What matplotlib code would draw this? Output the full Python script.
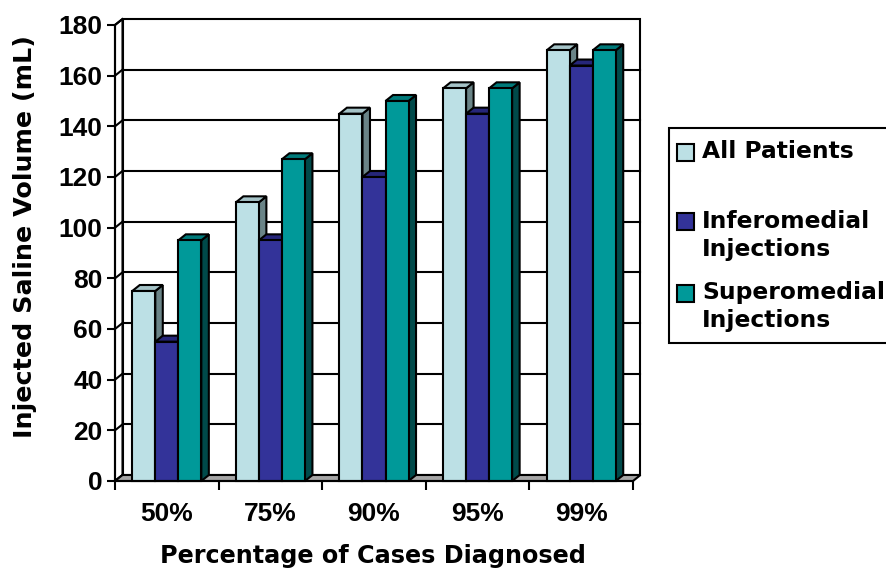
import matplotlib
matplotlib.use("Agg")
import matplotlib.pyplot as plt
from matplotlib import font_manager
from matplotlib.patches import Polygon, Rectangle

categories = ["50%", "75%", "90%", "95%", "99%"]
series = ["All Patients", "Inferomedial\nInjections", "Superomedial\nInjections"]
all_patients = [75, 110, 145, 155, 170]
inferomedial = [55, 95, 120, 145, 164]
superomedial = [95, 127, 150, 155, 170]
y_ticks = [0, 20, 40, 60, 80, 100, 120, 140, 160, 180]

# front / top / side shades for each series
front_colors = ["#BCE0E5", "#333399", "#009999"]
top_colors = ["#A5C3C7", "#26267A", "#007A7A"]
side_colors = ["#6A8487", "#1C1C5A", "#004A4A"]

# regular-width Liberation Sans Bold (avoid the Narrow variant)
arial_bold = None
for f in font_manager.findSystemFonts():
    if f.endswith("LiberationSans-Bold.ttf"):
        arial_bold = f
        break
if arial_bold:
    tick_prop = font_manager.FontProperties(fname=arial_bold, size=19)
else:
    tick_prop = font_manager.FontProperties(family="sans-serif", weight="bold", size=19)

W, H = 887, 571
fig = plt.figure(figsize=(W / 100, H / 100), dpi=100)

# plot area in pixels: front axis at x=115..633, y=481 (0) .. 25 (180)
left, right, base, top = 115, 633, 481, 25
ax = fig.add_axes([left / W, (H - base) / H, (right - left) / W, (base - top) / H])
ax.set_xlim(-0.5, len(categories) - 0.5)
ax.set_ylim(0, 180)

px_x = len(categories) / (right - left)
px_y = 180 / (base - top)
DX = 7.5 * px_x
DY = 6.0 * px_y
x0, x1 = -0.5, len(categories) - 0.5
lw = 1.5

# back wall with gridlines
ax.add_patch(Rectangle((x0 + DX, DY), x1 - x0, 180, facecolor="white",
                       edgecolor="black", lw=lw, clip_on=False, zorder=1))
for v in y_ticks[1:-1]:
    ax.plot([x0 + DX, x1 + DX], [v + DY, v + DY], color="black", lw=lw,
            clip_on=False, zorder=1.2)

# left wall
ax.add_patch(Polygon([(x0, 0), (x0 + DX, DY), (x0 + DX, 180 + DY), (x0, 180)],
                     closed=True, facecolor="white", edgecolor="black", lw=lw,
                     clip_on=False, zorder=1.5))
for v in y_ticks:
    ax.plot([x0, x0 + DX], [v, v + DY], color="black", lw=lw,
            clip_on=False, zorder=1.6)

# floor
ax.add_patch(Polygon([(x0, 0), (x1, 0), (x1 + DX, DY), (x0 + DX, DY)],
                     closed=True, facecolor="#A6A6A6", edgecolor="black", lw=lw,
                     clip_on=False, zorder=1.7))

# 3-D looking columns, gap width 150%
bw = 1 / 4.5
z = 3
for i in range(len(categories)):
    for j, vals in enumerate([all_patients, inferomedial, superomedial]):
        v = vals[i]
        xl = i - 1.5 * bw + j * bw
        xr = xl + bw
        ax.add_patch(Polygon([(xr, 0), (xr + DX, DY), (xr + DX, v + DY), (xr, v)],
                             closed=True, facecolor=side_colors[j],
                             edgecolor="black", lw=lw, clip_on=False, zorder=z))
        ax.add_patch(Polygon([(xl, v), (xr, v), (xr + DX, v + DY), (xl + DX, v + DY)],
                             closed=True, facecolor=top_colors[j],
                             edgecolor="black", lw=lw, clip_on=False, zorder=z))
        ax.bar(xl, v, width=bw, align="edge", color=front_colors[j],
               edgecolor="black", lw=lw, zorder=z + 0.5, clip_on=False)
        z += 1

for s in ["top", "right"]:
    ax.spines[s].set_visible(False)
for s in ["left", "bottom"]:
    ax.spines[s].set_linewidth(lw)
    ax.spines[s].set_zorder(50)

text_font = {"family": "DejaVu Sans", "weight": "bold"}

ax.set_yticks(y_ticks)
ax.set_yticklabels([str(t) for t in y_ticks], fontproperties=tick_prop)
ax.tick_params(axis="y", direction="out", length=6, width=lw, pad=3)

ax.set_xticks(range(len(categories)))
ax.set_xticklabels(categories, fontproperties=tick_prop)
ax.set_xticks([k - 0.5 for k in range(len(categories) + 1)], minor=True)
ax.tick_params(axis="x", which="major", length=0, pad=15)
ax.tick_params(axis="x", which="minor", direction="out", length=6.5, width=lw)

fig.text(25 / W, 1 - 237 / H, "Injected Saline Volume (mL)", rotation=90,
         ha="center", va="center", size=18.3, **text_font)
fig.text(373 / W, 1 - 556 / H, "Percentage of Cases Diagnosed",
         ha="center", va="center", size=17.2, **text_font)

# legend drawn in figure pixels
def fx(x):
    return x / W


def fy(y):
    return 1 - y / H


fig.patches.append(Rectangle((fx(669), fy(343)), fx(260), (343 - 128) / H,
                             transform=fig.transFigure, facecolor="white",
                             edgecolor="black", lw=lw, zorder=0))
rows = [152, 222, 293]
for j, name in enumerate(series):
    sq = 17
    fig.patches.append(Rectangle((fx(677), fy(rows[j] + sq / 2)), sq / W, sq / H,
                                 transform=fig.transFigure,
                                 facecolor=front_colors[j], edgecolor="black",
                                 lw=lw, zorder=2))
    fig.text(fx(702), fy(rows[j] - 12), name, ha="left", va="top",
             size=16.8, linespacing=1.25, **text_font)

fig.savefig("out.png", dpi=100)
